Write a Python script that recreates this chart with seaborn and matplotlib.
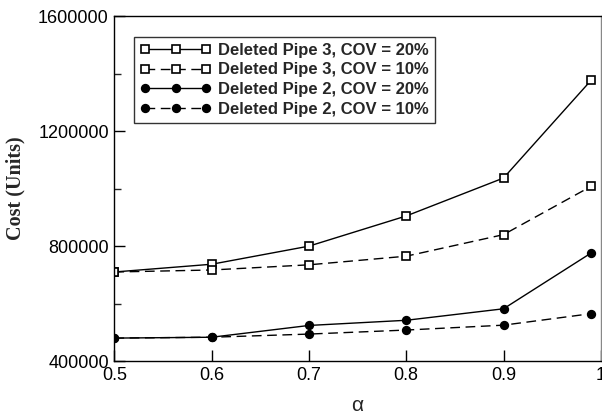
import matplotlib
matplotlib.use("Agg")
import matplotlib.pyplot as plt
import seaborn as sns
import pandas as pd
from matplotlib.ticker import MultipleLocator, FuncFormatter

alpha = [0.5, 0.6, 0.7, 0.8, 0.9, 0.99]
pipe3_cov20 = [710000, 737000, 800000, 905000, 1037000, 1377000]
pipe3_cov10 = [710000, 717000, 735000, 765000, 840000, 1008000]
pipe2_cov20 = [480000, 483000, 524000, 542000, 582000, 776000]
pipe2_cov10 = [480000, 483000, 494000, 508000, 525000, 565000]
labels = ["Deleted Pipe 3, COV = 20%", "Deleted Pipe 3, COV = 10%",
          "Deleted Pipe 2, COV = 20%", "Deleted Pipe 2, COV = 10%"]

sns.set_style("ticks")
plt.rcParams['font.family'] = ['Liberation Sans', 'DejaVu Sans']

fig = plt.figure(figsize=(6.02, 4.16), dpi=100)
ax = fig.add_axes([0.19, 0.132, 0.808, 0.829])

series = [pipe3_cov20, pipe3_cov10, pipe2_cov20, pipe2_cov10]
styles = [("s", "white", None), ("s", "white", (7, 4)),
          ("o", "black", None), ("o", "black", (7, 4))]
for vals, lab, (mk, mfc, dash) in zip(series, labels, styles):
    df = pd.DataFrame({"alpha": alpha, "cost": vals})
    sns.lineplot(data=df, x="alpha", y="cost", ax=ax, color="black",
                 linewidth=1.0, marker=mk, markersize=5.5 if mk == "s" else 5.5,
                 markerfacecolor=mfc, markeredgecolor="black",
                 markeredgewidth=1.2, label=lab)
    line = ax.get_lines()[-1]
    if dash is not None:
        line.set_dashes(dash)

ax.set_xlim(0.5, 1.0)
ax.set_ylim(400000, 1600000)
ax.yaxis.set_major_locator(MultipleLocator(400000))
ax.yaxis.set_minor_locator(MultipleLocator(200000))
ax.yaxis.set_major_formatter(FuncFormatter(lambda v, p: f"{int(round(v))}"))
ax.set_xticks([0.5, 0.6, 0.7, 0.8, 0.9, 1.0])
ax.set_xticklabels(["0.5", "0.6", "0.7", "0.8", "0.9", "1"])
ax.tick_params(axis="both", which="major", direction="in", length=8,
               width=1.0, labelsize=13, pad=4, colors="black")
ax.tick_params(axis="y", which="minor", direction="in", length=5, width=1.0)
for s in ax.spines.values():
    s.set_visible(True)
    s.set_linewidth(1.0)
    s.set_color("black")
ax.spines["right"].set_color("#888888")

ax.set_xlabel("α", fontsize=15, labelpad=9)
ax.set_ylabel("Cost (Units)", fontsize=14.5, fontweight="bold",
              family=["Liberation Serif"], labelpad=9)

leg = ax.legend(loc="upper left", bbox_to_anchor=(0.04, 0.94), numpoints=3,
                handlelength=4.3, handletextpad=0.4, borderpad=0.35,
                labelspacing=0.28, frameon=True, fancybox=False,
                prop={"weight": "bold", "size": 12}, borderaxespad=0)
leg.get_frame().set_edgecolor("black")
leg.get_frame().set_linewidth(1.0)

fig.savefig("out.png", dpi=100)
